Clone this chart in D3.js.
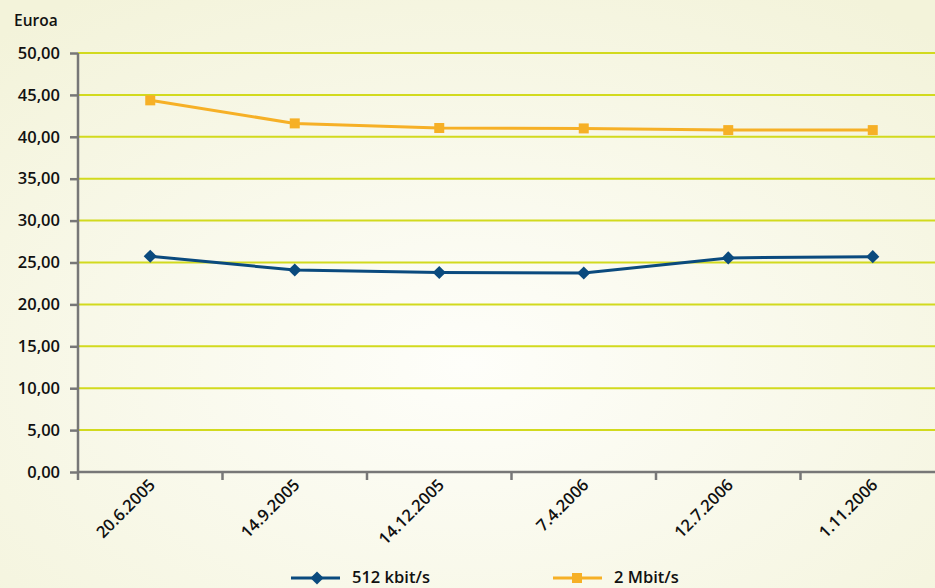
<!DOCTYPE html>
<html>
<head>
<meta charset="utf-8">
<script src="https://cdn.jsdelivr.net/npm/d3@7"></script>
<style>
  html, body { margin: 0; padding: 0; overflow: hidden; }
  svg { display: block; font-family: "Open Sans", "Noto Sans", sans-serif; font-weight: 600; }
</style>
</head>
<body>
<div id="chart"></div>
<script>
// Chart data
const dates = ['20.6.2005', '14.9.2005', '14.12.2005', '7.4.2006', '12.7.2006', '1.11.2006'];
const series512k = [25.75, 24.1, 23.8, 23.75, 25.55, 25.7];
const series2M = [44.35, 41.6, 41.05, 41.0, 40.8, 40.8];
const yTicks = [0, 5, 10, 15, 20, 25, 30, 35, 40, 45, 50];
const seriesNames = ['512 kbit/s', '2 Mbit/s'];

const width = 935, height = 588;
const margin = { top: 53, left: 78, bottom: 116 };
const plotW = 867; // runs past the right edge, as in the original

const svg = d3.select('#chart').append('svg')
  .attr('width', width)
  .attr('height', height);

// Background gradient
const defs = svg.append('defs');
const grad = defs.append('radialGradient')
  .attr('id', 'bg')
  .attr('cx', '50%').attr('cy', '62%').attr('r', '75%');
grad.append('stop').attr('offset', '0%').attr('stop-color', '#fefefa');
grad.append('stop').attr('offset', '100%').attr('stop-color', '#f3f3da');
svg.append('rect')
  .attr('width', width).attr('height', height)
  .attr('fill', 'url(#bg)');

const chart = svg.append('g')
  .attr('transform', `translate(${margin.left},${margin.top})`);

const innerH = height - margin.top - margin.bottom;

const xScale = d3.scaleBand()
  .domain(dates)
  .range([0, plotW]);

const yScale = d3.scaleLinear()
  .domain([0, 50])
  .range([innerH, 0]);

const fmt = d => d.toFixed(2).replace('.', ',');

// Gridlines
chart.append('g')
  .selectAll('line')
  .data(yTicks.filter(d => d > 0))
  .join('line')
  .attr('x1', 0)
  .attr('x2', plotW)
  .attr('y1', d => yScale(d))
  .attr('y2', d => yScale(d))
  .attr('stroke', '#d2da1e')
  .attr('stroke-width', 2);

// Y axis
const yAxis = d3.axisLeft(yScale)
  .tickValues(yTicks)
  .tickFormat(fmt)
  .tickSize(8)
  .tickPadding(10);

const yAxisG = chart.append('g').call(yAxis);
yAxisG.select('.domain').attr('stroke', '#777').attr('stroke-width', 2.5)
  .attr('d', `M0,${innerH + 8}V0`);
yAxisG.selectAll('.tick line').attr('stroke', '#777').attr('stroke-width', 2.5);
yAxisG.selectAll('.tick text')
  .attr('fill', '#111')
  .style('font-size', '16.5px')
  .style('font-family', '"Open Sans", sans-serif')
  .style('font-weight', 600);

// X axis with tick marks at band boundaries
const xAxisG = chart.append('g')
  .attr('transform', `translate(0,${innerH})`);
xAxisG.append('line')
  .attr('x1', 0).attr('x2', plotW)
  .attr('stroke', '#777').attr('stroke-width', 2.5);
xAxisG.selectAll('.xtick')
  .data(dates.slice(1))
  .join('line')
  .attr('class', 'xtick')
  .attr('x1', d => xScale(d)).attr('x2', d => xScale(d))
  .attr('y1', 0).attr('y2', 8)
  .attr('stroke', '#777').attr('stroke-width', 2.5);
xAxisG.selectAll('.xlabel')
  .data(dates)
  .join('text')
  .attr('class', 'xlabel')
  .attr('text-anchor', 'end')
  .attr('transform', d => `translate(${xScale(d) + xScale.bandwidth() / 2 + 6},${14}) rotate(-45)`)
  .attr('fill', '#111')
  .style('font-size', '16.5px')
  .text(d => d);

// Axis title
svg.append('text')
  .attr('x', 14)
  .attr('y', 26)
  .attr('fill', '#111')
  .style('font-size', '15.5px')
  .text('Euroa');

// Lines
const line = d3.line()
  .x((d, i) => xScale(dates[i]) + xScale.bandwidth() / 2)
  .y(d => yScale(d));

chart.append('path')
  .datum(series2M)
  .attr('fill', 'none')
  .attr('stroke', '#f6b026')
  .attr('stroke-width', 3)
  .attr('d', line);

chart.append('path')
  .datum(series512k)
  .attr('fill', 'none')
  .attr('stroke', '#0a4a7e')
  .attr('stroke-width', 3)
  .attr('d', line);

// Markers
chart.selectAll('.sq')
  .data(series2M)
  .join('rect')
  .attr('class', 'sq')
  .attr('x', (d, i) => xScale(dates[i]) + xScale.bandwidth() / 2 - 5)
  .attr('y', d => yScale(d) - 5)
  .attr('width', 10).attr('height', 10)
  .attr('fill', '#f6b026');

const diamond = d3.symbol().type(d3.symbolDiamond2).size(110);
chart.selectAll('.dm')
  .data(series512k)
  .join('path')
  .attr('class', 'dm')
  .attr('transform', (d, i) => `translate(${xScale(dates[i]) + xScale.bandwidth() / 2},${yScale(d)})`)
  .attr('d', diamond)
  .attr('fill', '#0a4a7e');

// Legend
const legend = svg.append('g').attr('transform', 'translate(0,578)');
const legendItems = [
  { name: seriesNames[0], x: 291, color: '#0a4a7e', shape: 'diamond' },
  { name: seriesNames[1], x: 553, color: '#f6b026', shape: 'square' }
];
legendItems.forEach(item => {
  const g = legend.append('g').attr('transform', `translate(${item.x},0)`);
  g.append('line')
    .attr('x1', 0).attr('x2', 49)
    .attr('stroke', item.color).attr('stroke-width', 3);
  if (item.shape === 'diamond') {
    g.append('path')
      .attr('transform', 'translate(26,0)')
      .attr('d', diamond)
      .attr('fill', item.color);
  } else {
    g.append('rect')
      .attr('x', 19).attr('y', -5)
      .attr('width', 10).attr('height', 10)
      .attr('fill', item.color);
  }
  g.append('text')
    .attr('x', 61)
    .attr('y', 5)
    .attr('fill', '#111')
    .style('font-size', '16.5px')
    .text(item.name);
});
</script>
</body>
</html>
